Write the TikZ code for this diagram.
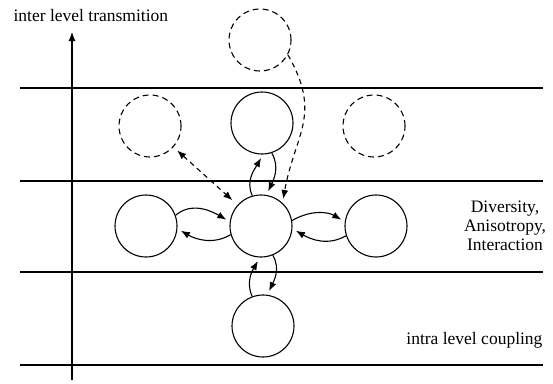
\documentclass[tikz,border=0pt]{standalone}
\usepackage{fontspec}
\setmainfont{Liberation Serif}
\usepackage{tikz}
\usetikzlibrary{arrows.meta}
\usetikzlibrary{positioning}
\tikzstyle{unit}=[draw,circle,minimum size=62pt,inner sep=0pt]
\begin{document}
\begin{tikzpicture}[x=1pt,y=-1pt,line width=1.1pt,font=\fontsize{17.5}{19}\selectfont]
\tikzstyle{ghost}=[unit,dash pattern=on 6pt off 4pt]
\tikzstyle{link}=[-{Latex[length=9pt,width=7pt]},shorten >=4pt]
\useasboundingbox (0,0) rectangle (553,383);

% levels
\foreach \y in {88,181,272,365}
  \draw (20,\y) -- (543,\y);
\coordinate (o) at (72,380);
\coordinate (t) at (72,32);
\draw[-{Latex[length=9pt,width=7pt]}] (o) -- (t);
\node[anchor=west,inner sep=0pt] (tr) at (13,16) {inter level transmition};
\node[anchor=east,inner sep=0pt] (cp) at (543,340) {intra level coupling};
\node[align=center,inner sep=0pt] (dai) at (505,226) {Diversity,\\Anisotropy,\\Interaction};

% units
\node [unit] (c) at (261,226) {};
\node [unit] (l) at (146,226) {};
\node [unit] (r) at (376,226) {};
\node [unit] (u) at (262,123) {};
\node [unit] (d) at (263,326) {};
\node [ghost] (gu) at (260,40) {};
\node [ghost] (gl) at (150,126) {};
\node [ghost] (gr) at (374,126) {};

\draw[link] (l.20) to[out=40,in=150] (c.172);
\draw[link] (c.196) to[out=-150,in=-30] (l.-5);
\draw[link] (c.10) to[out=30,in=150] (r.172);
\draw[link] (r.198) to[out=-150,in=-30] (c.-5);
\draw[link] (c.106) to[out=115,in=-120] (u.-88);
\draw[link] (u.-72) to[out=-60,in=65] (c.80);
\draw[link] (d.110) to[out=115,in=-120] (c.-92);
\draw[link] (c.-68) to[out=-60,in=65] (d.82);
\draw[{Latex[length=9pt,width=7pt]}-{Latex[length=9pt,width=7pt]},dash pattern=on 5pt off 4pt,shorten >=7pt,shorten <=5pt] (gl) -- (c);
\draw[link,dash pattern=on 5pt off 4pt] (gu.-28) to[out=-60,in=80,looseness=1.2] (c.47);
%\draw[link,dashed] (gr) -- (c);
\end{tikzpicture}
\end{document}
